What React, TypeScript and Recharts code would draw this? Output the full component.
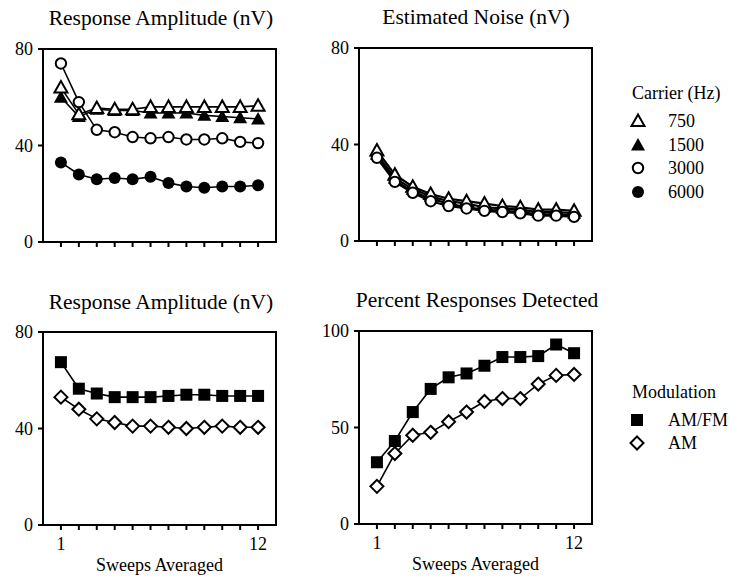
import { Line, LineChart, ReferenceArea, XAxis, YAxis } from "recharts";

const sweeps = [1, 2, 3, 4, 5, 6, 7, 8, 9, 10, 11, 12];

// response amplitude (nV) by carrier frequency
const amp750 = [64, 53, 55.5, 55, 55, 56, 56, 56, 56, 56, 56, 56.5];
const amp1500 = [60, 52, 55, 54.5, 54.5, 53.5, 53.5, 53.5, 52.5, 52, 51.5, 51];
const amp3000 = [74, 58, 46.5, 45.5, 43.5, 43, 43.5, 42.5, 42.5, 43, 41.5, 41];
const amp6000 = [33, 28, 26, 26.5, 26, 27, 24.5, 23, 22.5, 23, 23, 23.5];

// estimated noise (nV) by carrier frequency
const noise750 = [37.5, 27.5, 22.5, 19.5, 17.5, 16.5, 15.5, 14.5, 14, 13, 13, 12.5];
const noise1500 = [36, 26, 21.5, 18.5, 16.5, 15.5, 14, 13.5, 13, 12, 12, 11.5];
const noise3000 = [34.5, 24.5, 20, 16.5, 14.5, 13.5, 12.5, 12, 11.5, 10.5, 10.5, 10];
const noise6000 = [35, 25, 20.5, 17.5, 15.5, 14, 13, 12.5, 12, 11, 11, 10.5];

// response amplitude (nV) by modulation
const modAmpAmFm = [67.5, 56.5, 54.5, 53, 53, 53, 53.5, 54, 54, 53.5, 53.5, 53.5];
const modAmpAm = [53, 48, 44, 42.5, 41, 41, 40.5, 40, 40.5, 41, 40.5, 40.5];

// percent responses detected by modulation
const detectAmFm = [32, 43, 58, 70, 76, 78, 82, 86.5, 86.5, 87, 93, 88.5];
const detectAm = [19.5, 36.5, 46, 47.5, 53, 58, 63.5, 65, 65, 72.5, 77, 77.5];

const ampTicks = [0, 40, 80];
const pctTicks = [0, 50, 100];

const carrierLabels = ["750", "1500", "3000", "6000"];
const modulationLabels = ["AM/FM", "AM"];

const FONT = "'Liberation Serif', 'Times New Roman', serif";

type Kind = "triOpen" | "triFilled" | "circOpen" | "circFilled" | "square" | "diamond";

function Marker({ kind, cx, cy }: { kind: Kind; cx: number; cy: number }) {
  switch (kind) {
    case "triOpen":
      return (
        <polygon
          points={`${cx},${cy - 6.5} ${cx - 6.5},${cy + 5} ${cx + 6.5},${cy + 5}`}
          fill="#fff"
          stroke="#000"
          strokeWidth={2}
        />
      );
    case "triFilled":
      return (
        <polygon
          points={`${cx},${cy - 7} ${cx - 7},${cy + 5.5} ${cx + 7},${cy + 5.5}`}
          fill="#000"
        />
      );
    case "circOpen":
      return <circle cx={cx} cy={cy} r={5.2} fill="#fff" stroke="#000" strokeWidth={2} />;
    case "circFilled":
      return <circle cx={cx} cy={cy} r={6} fill="#000" />;
    case "square":
      return <rect x={cx - 6} y={cy - 6} width={12} height={12} fill="#000" />;
    case "diamond":
      return (
        <polygon
          points={`${cx},${cy - 6.5} ${cx + 6.5},${cy} ${cx},${cy + 6.5} ${cx - 6.5},${cy}`}
          fill="#fff"
          stroke="#000"
          strokeWidth={2}
        />
      );
  }
}

type Series = { key: string; values: number[]; kind: Kind };

type PanelProps = {
  left: number;
  top: number;
  yMax: number;
  yTicks: number[];
  series: Series[];
  showLabels?: boolean;
  lineWidth?: number;
};

function Panel({ left, top, yMax, yTicks, series, showLabels, lineWidth = 1.6 }: PanelProps) {
  const data = sweeps.map((sweep, i) => {
    const row: Record<string, number> = { sweep };
    series.forEach((s) => {
      row[s.key] = s.values[i];
    });
    return row;
  });

  return (
    <div style={{ position: "absolute", left: left - 43, top: top - 10 }}>
      <LineChart
        width={286}
        height={259}
        data={data}
        margin={{ top: 10, right: 10, bottom: 10, left: 3 }}
      >
        <XAxis
          dataKey="sweep"
          type="number"
          domain={[0, 13]}
          ticks={sweeps}
          interval={0}
          height={46}
          tickSize={5}
          tickMargin={7}
          tick={{ fill: "#000", fontSize: 18 }}
          tickFormatter={(v) => (showLabels && (v === 1 || v === 12) ? String(v) : "")}
          axisLine={{ stroke: "#000", strokeWidth: 2 }}
          tickLine={{ stroke: "#000", strokeWidth: 2 }}
          label={
            showLabels
              ? { value: "Sweeps Averaged", position: "insideBottom", offset: 0, fill: "#000", fontSize: 18 }
              : undefined
          }
        />
        <YAxis
          type="number"
          domain={[0, yMax]}
          ticks={yTicks}
          interval={0}
          width={40}
          tickSize={5}
          tickMargin={5}
          tick={{ fill: "#000", fontSize: 18 }}
          axisLine={{ stroke: "#000", strokeWidth: 2 }}
          tickLine={{ stroke: "#000", strokeWidth: 2 }}
        />
        <ReferenceArea
          x1={0}
          x2={13}
          y1={0}
          y2={yMax}
          fill="none"
          fillOpacity={0}
          stroke="#000"
          strokeWidth={2}
        />
        {series.map((s) => (
          <Line
            key={s.key}
            dataKey={s.key}
            stroke="#000"
            strokeWidth={lineWidth}
            isAnimationActive={false}
            activeDot={false}
            dot={(p: any) => <Marker key={`${s.key}-${p.index}`} kind={s.kind} cx={p.cx} cy={p.cy} />}
          />
        ))}
      </LineChart>
    </div>
  );
}

export default function App() {
  const carrierKinds: Kind[] = ["triOpen", "triFilled", "circOpen", "circFilled"];
  const carrierY = [121, 145, 168, 192];
  const modKinds: Kind[] = ["square", "diamond"];
  const modY = [420, 443];

  return (
    <div
      style={{
        position: "absolute",
        left: 0,
        top: 0,
        width: 729,
        height: 577,
        background: "#fff",
        fontFamily: FONT,
      }}
    >
      <Panel
        left={43}
        top={49}
        yMax={80}
        yTicks={ampTicks}
        series={[
          { key: "c1500", values: amp1500, kind: "triFilled" },
          { key: "c750", values: amp750, kind: "triOpen" },
          { key: "c3000", values: amp3000, kind: "circOpen" },
          { key: "c6000", values: amp6000, kind: "circFilled" },
        ]}
      />
      <Panel
        left={359}
        top={48}
        yMax={80}
        yTicks={ampTicks}
        lineWidth={2.2}
        series={[
          { key: "n1500", values: noise1500, kind: "triFilled" },
          { key: "n6000", values: noise6000, kind: "circFilled" },
          { key: "n750", values: noise750, kind: "triOpen" },
          { key: "n3000", values: noise3000, kind: "circOpen" },
        ]}
      />
      <Panel
        left={43}
        top={332}
        yMax={80}
        yTicks={ampTicks}
        showLabels
        series={[
          { key: "amfm", values: modAmpAmFm, kind: "square" },
          { key: "am", values: modAmpAm, kind: "diamond" },
        ]}
      />
      <Panel
        left={359}
        top={331}
        yMax={100}
        yTicks={pctTicks}
        showLabels
        series={[
          { key: "amfm", values: detectAmFm, kind: "square" },
          { key: "am", values: detectAm, kind: "diamond" },
        ]}
      />

      <svg
        width={729}
        height={577}
        style={{ position: "absolute", left: 0, top: 0, pointerEvents: "none" }}
        fontFamily={FONT}
      >
        <text x={161} y={25} textAnchor="middle" fontSize={21.5} fill="#000">
          Response Amplitude (nV)
        </text>
        <text x={476} y={24} textAnchor="middle" fontSize={21.5} fill="#000">
          Estimated Noise (nV)
        </text>
        <text x={161} y={309} textAnchor="middle" fontSize={21.5} fill="#000">
          Response Amplitude (nV)
        </text>
        <text x={477} y={307} textAnchor="middle" fontSize={21.5} fill="#000">
          Percent Responses Detected
        </text>

        <text x={632} y={93} dominantBaseline="central" fontSize={18} fill="#000">
          Carrier (Hz)
        </text>
        {carrierLabels.map((label, i) => (
          <g key={label}>
            <Marker kind={carrierKinds[i]} cx={638} cy={carrierY[i]} />
            <text x={668} y={carrierY[i]} dominantBaseline="central" fontSize={18} fill="#000">
              {label}
            </text>
          </g>
        ))}

        <text x={632} y={392} dominantBaseline="central" fontSize={18} fill="#000">
          Modulation
        </text>
        {modulationLabels.map((label, i) => (
          <g key={label}>
            <Marker kind={modKinds[i]} cx={637} cy={modY[i]} />
            <text x={668} y={modY[i]} dominantBaseline="central" fontSize={18} fill="#000">
              {label}
            </text>
          </g>
        ))}
      </svg>
    </div>
  );
}
